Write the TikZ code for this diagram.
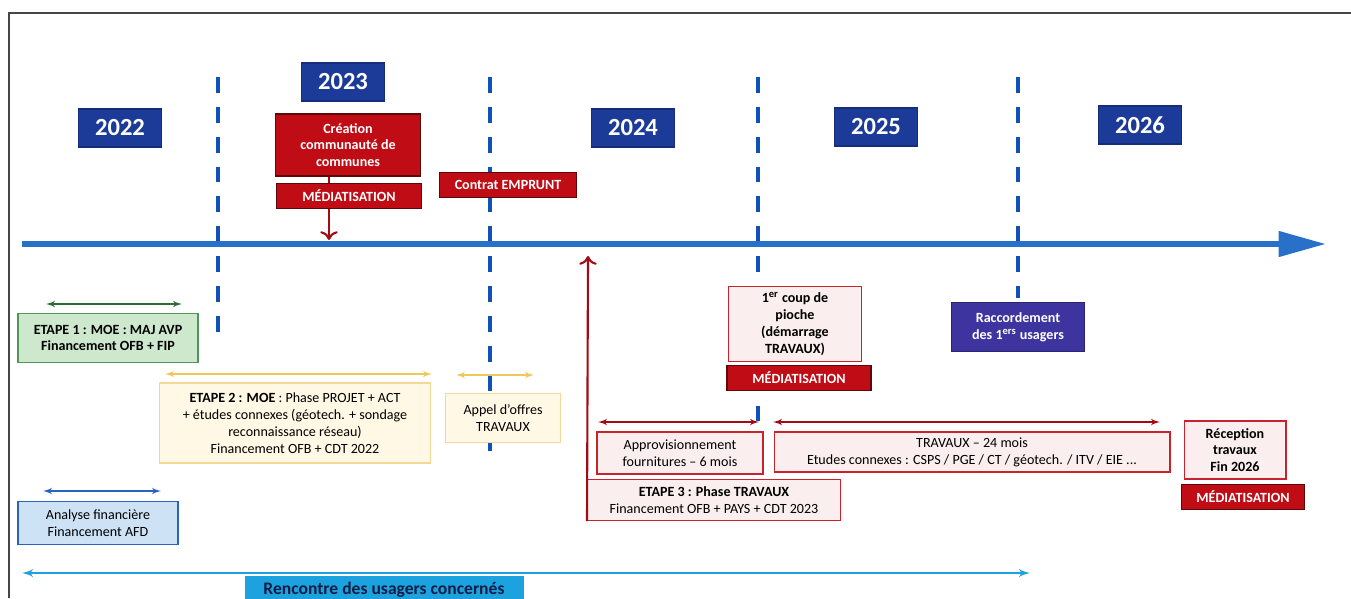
\documentclass[tikz,border=0pt]{standalone}
\usepackage{fontspec}
\setmainfont{Carlito}
\usepackage{tikz}
\usetikzlibrary{arrows,arrows.meta}
\definecolor{frame_gray}{RGB}{70,70,70}
\definecolor{axis_blue}{RGB}{40,112,200}
\definecolor{dash_blue}{RGB}{15,80,185}
\definecolor{year_blue}{RGB}{28,58,152}
\definecolor{event_red}{RGB}{192,12,20}
\definecolor{event_edge}{RGB}{90,10,10}
\definecolor{arrow_red}{RGB}{165,10,20}
\definecolor{work_pink}{RGB}{250,238,238}
\definecolor{work_red}{RGB}{200,35,45}
\definecolor{node_green}{RGB}{205,232,205}
\definecolor{edge_green}{RGB}{80,150,90}
\definecolor{arrow_green}{RGB}{40,110,50}
\definecolor{node_yellow}{RGB}{255,248,228}
\definecolor{edge_yellow}{RGB}{245,215,150}
\definecolor{arrow_yellow}{RGB}{240,200,90}
\definecolor{node_blue}{RGB}{205,226,245}
\definecolor{edge_blue}{RGB}{40,100,190}
\definecolor{node_purple}{RGB}{62,52,160}
\definecolor{node_cyan}{RGB}{28,162,222}
\definecolor{text_navy}{RGB}{15,30,70}
\newcommand{\boxfont}{\fontsize{8}{9.6}\selectfont}

\begin{document}
\begin{tikzpicture}[x=0.02cm,y=-0.02cm,semithick,>=latex',font=\boxfont]
    \tikzstyle{box}=[draw, rectangle, inner sep=1pt, align=center, text=black]
    \tikzstyle{year}=[style=box, fill=year_blue, draw=year_blue!80!black, text=white,
                      font=\fontsize{14}{16}\selectfont\bfseries, minimum width=1.66cm, minimum height=0.76cm]
    \tikzstyle{event}=[style=box, fill=event_red, draw=event_edge, text=white, font=\boxfont\bfseries]
    \tikzstyle{media}=[style=event, minimum height=0.5cm]
    \tikzstyle{work}=[style=box, fill=work_pink, draw=work_red]
    \tikzstyle{etude}=[style=box, fill=node_yellow, draw=edge_yellow]
    \tikzstyle{period}=[<->, line width=0.8pt]
    \tikzstyle{vline}=[dash_blue, line width=2.3pt, dash pattern=on 9pt off 8pt]

    \useasboundingbox (0,0) rectangle (1351,598);
    \draw[frame_gray, line width=1pt] (9,598) -- (9,13) -- (1351,13);

    % separateurs d'annees
    \foreach \x/\yb in {218/338, 490/460, 758/430, 1018/298}
      \draw[vline] (\x,77) -- (\x,\yb);

    % axe du temps
    \coordinate (t0) at (22,244);
    \coordinate (t1) at (1326,244);
    \draw[axis_blue, line width=3.4pt, -{Triangle[length=27pt,width=14pt]}] (t0) -- (t1);

    \node[year] (y2022) at (120,128) {2022};
    \node[year] (y2023) at (343,82)  {2023};
    \node[year] (y2024) at (633,128) {2024};
    \node[year] (y2025) at (876,127) {2025};
    \node[year] (y2026) at (1140,125) {2026};

    % au-dessus de l'axe
    \node[event, minimum width=2.9cm, minimum height=1.24cm] (creation) at (348,145)
      {Création\\communauté de\\communes};
    \node[media, minimum width=2.9cm] (med_a) at (349,196) {MÉDIATISATION};
    \node[media, minimum width=2.74cm] (emprunt) at (508,185) {Contrat EMPRUNT};
    \coordinate (hit_a) at (329,240);
    \draw[arrow_red, line width=1.2pt] (creation.south -| hit_a) -- (med_a.north -| hit_a);
    \draw[arrow_red, line width=1.2pt, -{To[length=5pt,width=10pt]}] (med_a.south -| hit_a) -- (hit_a);

    % etudes
    \node[box, fill=node_green, draw=edge_green, font=\boxfont\bfseries,
          minimum width=3.6cm, minimum height=0.98cm] (etape1) at (108,338)
      {ETAPE 1 : MOE : MAJ AVP\\Financement OFB + FIP};
    \node[etude, minimum width=5.42cm, minimum height=1.6cm] (etape2) at (295,423)
      {\textbf{ETAPE 2 : MOE} : Phase PROJET + ACT\\+ études connexes (géotech. + sondage\\reconnaissance réseau)\\Financement OFB + CDT 2022};
    \node[etude, minimum width=2.3cm, minimum height=0.98cm] (appel) at (503,418)
      {Appel d’offres\\TRAVAUX};
    \node[box, fill=node_blue, draw=edge_blue, minimum width=3.2cm, minimum height=0.86cm] (analyse) at (98,523)
      {Analyse financière\\Financement AFD};

    \coordinate (g0) at (46,304);  \coordinate (g1) at (182,304);
    \coordinate (e0) at (165,374); \coordinate (e1) at (432,374);
    \coordinate (a0) at (456,375); \coordinate (a1) at (534,375);
    \coordinate (b0) at (43,491);  \coordinate (b1) at (161,491);
    \draw[period, arrow_green]  (g0) -- (g1);
    \draw[period, arrow_yellow] (e0) -- (e1);
    \draw[period, arrow_yellow] (a0) -- (a1);
    \draw[period, edge_blue]    (b0) -- (b1);

    % travaux
    \node[work, font=\boxfont\bfseries, minimum width=2.66cm, minimum height=1.5cm] (pioche) at (795,324)
      {1\textsuperscript{er} coup de\\pioche\\(démarrage\\TRAVAUX)};
    \node[media, minimum width=2.88cm] (med_b) at (799,378) {MÉDIATISATION};
    \node[box, fill=node_purple, draw=node_purple!70!black, text=white, font=\boxfont\bfseries,
          minimum width=2.66cm, minimum height=0.98cm] (raccord) at (1018,327)
      {Raccordement\\des 1\textsuperscript{ers} usagers};
    \node[work, minimum width=3.32cm, minimum height=0.84cm] (appro) at (680,453)
      {Approvisionnement\\fournitures -- 6 mois};
    \node[work, minimum width=7.92cm, minimum height=0.8cm] (travaux) at (972,452)
      {TRAVAUX -- 24 mois\\Etudes connexes : CSPS / PGE / CT / géotech. / ITV / EIE ...};
    \node[work, minimum width=5.06cm, minimum height=0.82cm] (etape3) at (714,500)
      {\textbf{ETAPE 3 : Phase TRAVAUX}\\Financement OFB + PAYS + CDT 2023};
    \node[work, font=\boxfont\bfseries, minimum width=2.04cm, minimum height=1.16cm] (reception) at (1235,450)
      {Réception\\travaux\\Fin 2026};
    \node[media, minimum width=2.46cm] (med_c) at (1243,497) {MÉDIATISATION};

    \coordinate (r0) at (598,422);  \coordinate (r1) at (759,422);
    \coordinate (r2) at (773,422);  \coordinate (r3) at (1160,422);
    \draw[period, arrow_red] (r0) -- (r1);
    \draw[period, arrow_red] (r2) -- (r3);
    \coordinate (hit_b) at (588,256);
    \draw[arrow_red, line width=1.2pt, -{To[length=5pt,width=10pt]}] (etape3.south west) -- (hit_b);

    % usagers
    \coordinate (u0) at (22,573); \coordinate (u1) at (1030,573);
    \draw[period, node_cyan, line width=1.2pt] (u0) -- (u1);
    \node[box, fill=node_cyan, draw=node_cyan, text=text_navy, font=\fontsize{10}{12}\selectfont\bfseries,
          minimum width=5.56cm, minimum height=0.52cm] (rencontre) at (384,590)
      {Rencontre des usagers concernés};
\end{tikzpicture}
\end{document}
